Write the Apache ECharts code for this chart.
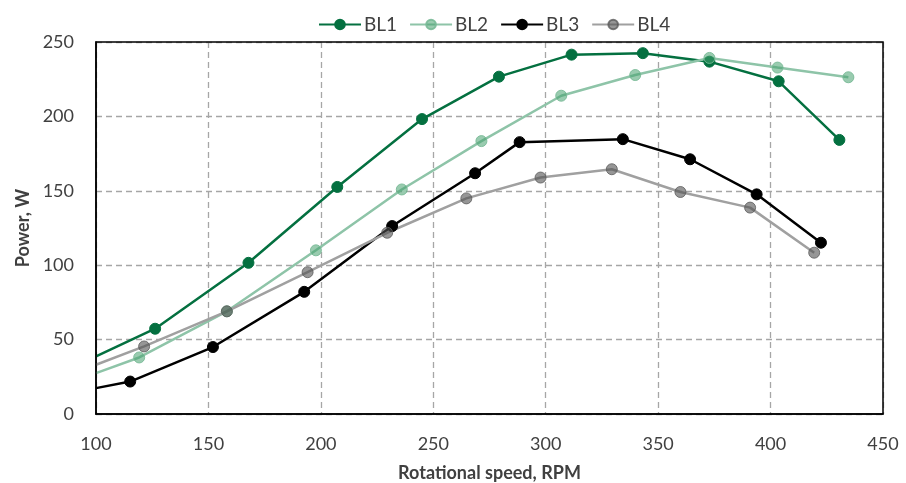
<!DOCTYPE html>
<html>
<head>
<meta charset="utf-8">
<script src="https://cdn.jsdelivr.net/npm/echarts@6/dist/echarts.min.js"></script>
<style>
  html, body { margin: 0; padding: 0; background: #fff; }
  #chart { width: 906px; height: 483px; }
</style>
</head>
<body>
<div id="chart"></div>
<script>
// values; first item of each series sits on the left edge (no marker)
const bl1X = [100, 126.3, 167.8, 207.3, 245.0, 279.2, 311.5, 343.2, 372.8, 403.6, 430.6];
const bl1Y = [38.7, 57.3, 101.6, 152.6, 198.2, 226.7, 241.5, 242.5, 236.8, 223.6, 184.2];
const bl2X = [100, 119.2, 158.2, 197.8, 236.0, 271.4, 306.9, 339.8, 372.8, 403.1, 434.6];
const bl2Y = [27.5, 38.0, 69.0, 110.0, 150.9, 183.4, 213.9, 227.8, 239.3, 232.8, 226.3];
const bl3X = [100, 115.2, 152.0, 192.6, 231.7, 268.6, 288.4, 334.3, 364.2, 393.8, 422.4];
const bl3Y = [17.4, 21.8, 45.0, 82.1, 126.3, 161.8, 182.7, 184.7, 171.2, 147.6, 115.1];
const bl4X = [100, 121.4, 158.2, 194.1, 229.5, 264.7, 297.7, 329.4, 359.9, 390.9, 419.4];
const bl4Y = [33.1, 45.4, 69.0, 95.3, 121.8, 144.9, 158.9, 164.5, 149.2, 138.7, 108.4];
const seriesNames = ['BL1', 'BL2', 'BL3', 'BL4'];

const font = 'Lato, "Open Sans", sans-serif';

function points(xs, ys) {
    return xs.map((x, i) => i === 0 ? { value: [x, ys[i]], symbol: 'none' } : [x, ys[i]]);
}

function makeSeries(name, xs, ys, lineColor, fill, border) {
    return {
        name: name,
        type: 'line',
        data: points(xs, ys),
        symbol: 'circle',
        symbolSize: 11,
        lineStyle: { color: lineColor, width: 2.5 },
        itemStyle: { color: fill, borderColor: border, borderWidth: 1 },
        emphasis: { disabled: true },
        clip: true
    };
}

const chart = echarts.init(document.getElementById('chart'));
chart.setOption({
    animation: false,
    legend: {
        top: 10,
        left: 313,
        itemWidth: 42,
        itemHeight: 12,
        itemGap: 12,
        textStyle: { fontFamily: font, fontSize: 19, color: '#404040', padding: [0, 0, 0, -2] },
        data: seriesNames
    },
    grid: { left: 96, right: 23, top: 42, bottom: 69, containLabel: false, outerBoundsMode: 'none' },
    xAxis: {
        type: 'value',
        min: 100, max: 450, interval: 50,
        name: 'Rotational speed, RPM',
        nameLocation: 'middle',
        nameGap: 50,
        nameTextStyle: { fontFamily: font, fontSize: 18, fontWeight: 'bold', color: '#404040' },
        axisLine: { show: true, lineStyle: { color: '#000', width: 1.5 } },
        axisTick: { show: false },
        axisLabel: { fontFamily: font, fontSize: 18, color: '#404040', margin: 21 },
        splitLine: { show: true, lineStyle: { color: '#a6a6a6', type: [6, 4], width: 1.3 } }
    },
    yAxis: {
        type: 'value',
        min: 0, max: 250, interval: 50,
        name: 'Power, W',
        nameLocation: 'middle',
        nameGap: 64,
        nameTextStyle: { fontFamily: font, fontSize: 18, fontWeight: 'bold', color: '#404040' },
        axisLine: { show: true, lineStyle: { color: '#000', width: 1.5 } },
        axisTick: { show: false },
        axisLabel: { fontFamily: font, fontSize: 18, color: '#404040', margin: 22 },
        splitLine: { show: true, lineStyle: { color: '#a6a6a6', type: [6, 4], width: 1.3 } }
    },
    series: [
        makeSeries('BL1', bl1X, bl1Y, '#047040', '#047040', '#047040'),
        makeSeries('BL2', bl2X, bl2Y, '#8ec4a8', 'rgba(70,160,110,0.55)', 'rgba(120,185,150,0.9)'),
        makeSeries('BL3', bl3X, bl3Y, '#000000', '#000000', '#000000'),
        makeSeries('BL4', bl4X, bl4Y, '#a0a0a0', 'rgba(80,80,80,0.6)', 'rgba(90,90,90,0.8)')
    ],
    graphic: [{
        type: 'rect',
        shape: { x: 96, y: 42, width: 787, height: 372 },
        style: { fill: 'none', stroke: '#000', lineWidth: 1.5 },
        silent: true,
        z: 10
    }]
});
</script>
</body>
</html>
